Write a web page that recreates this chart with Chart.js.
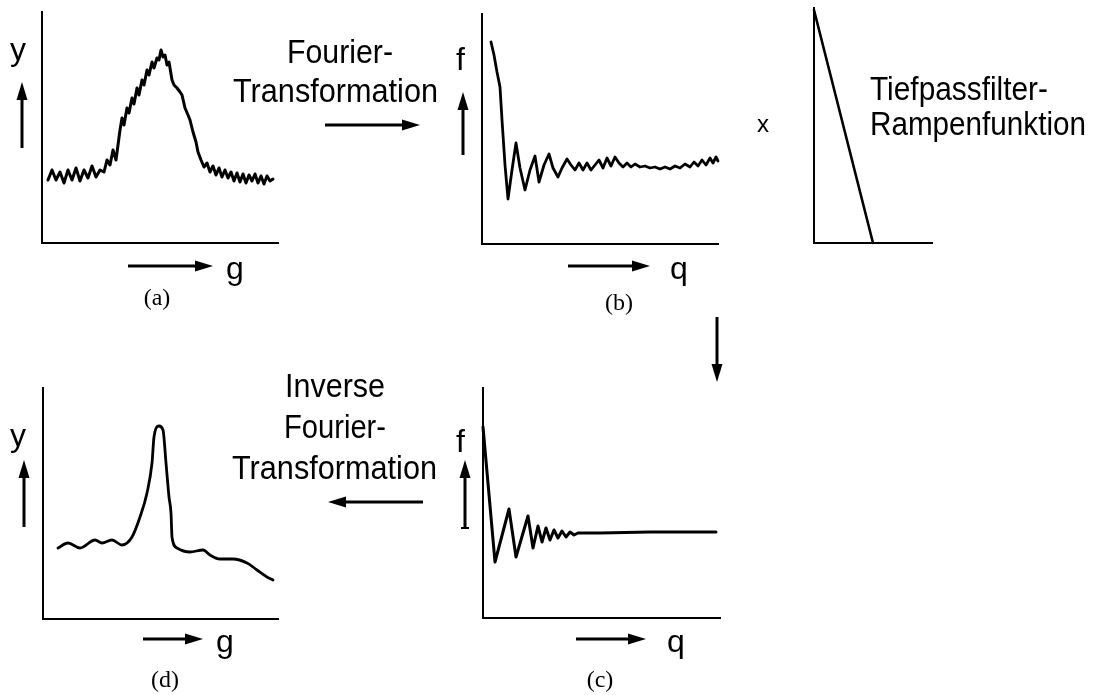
<!DOCTYPE html>
<html>
<head>
<meta charset="utf-8">
<script src="https://cdn.jsdelivr.net/npm/chart.js@4.4.0/dist/chart.umd.min.js"></script>
<style>
html, body { margin: 0; padding: 0; background: #fff; }
#page { position: relative; width: 1094px; height: 695px; overflow: hidden; background: #fff; }
#page canvas { position: absolute; }
#overlay { position: absolute; left: 0; top: 0; }
</style>
</head>
<body>
<div id="page">
  <canvas id="chartA"></canvas>
  <canvas id="chartB"></canvas>
  <canvas id="chartRamp"></canvas>
  <canvas id="chartC"></canvas>
  <canvas id="chartD"></canvas>
  <svg id="overlay" width="1094" height="695"></svg>
</div>
<script>

// (a) noisy input signal y(g), arbitrary units
var gA = [6,10,14,18,22,26,30,34,38,42,46,50,54,58,62,65,68,71,74,76,78,80,82,85,87,90,92,95,97,100,
          102,105,107,110,112,115,117,119,121,123,125,127,130,132,135,138,140,143,146,148,151,154,156,159,162,
          165,168,171,174,177,180,183,186,189,192,195,198,201,204,207,210,213,216,219,222,225,228,231];
var yA = [63,73,63,71,60,73,63,75,62,73,65,77,66,73,71,83,78,93,83,98,113,125,118,135,130,145,139,155,148,163,
          158,173,168,181,175,185,183,193,186,188,178,181,163,158,155,151,148,135,128,123,111,101,91,83,76,
          80,71,77,68,75,66,73,65,71,62,70,61,69,60,68,62,69,60,67,59,67,62,64];

// (b) Fourier transform f(q)
var qB = [9,12,15,18,20,23,26,30,34,38,43,48,53,57,62,67,71,76,80,85,89,93,97,101,105,109,113,117,121,125,
          129,133,137,141,145,149,153,158,163,168,173,178,183,188,193,198,203,208,212,216,220,224,228,231,234,236];
var fB = [202,189,172,157,124,79,45,74,101,76,54,74,88,62,79,90,76,67,76,85,79,74,81,74,81,74,79,84,76,86,
          78,87,81,77,81,77,80,77,78,76,77,75,77,75,78,76,80,77,82,78,84,79,86,81,87,83];

// low pass ramp filter
var qRamp = [0, 59];
var fRamp = [233, 0];

// (c) filtered spectrum
var qC = [0,12,26,33,45,50,55,59,63,67,71,75,79,83,87,91,95,117,167,233];
var fC = [191,56,109,61,102,70,92,76,90,78,88,80,87,81,86,83,85,85,86,86];

// (d) inverse transform, smoothed signal
var gD = [15,25,37,52,59,69,79,89,97,104,109,111,116,120,123,126,128,129,134,147,160,167,177,190,204,214,224,230];
var yD = [71,76,71,79,76,79,74,82,102,126,156,182,193,189,156,122,106,82,71,67,69,64,60,60,56,49,42,39];

var PAD = 6;

function makePanel(id, area, xMax, yMax, xs, ys, smooth, lw) {
    var canvas = document.getElementById(id);
    canvas.width = area.w + 2 * PAD;
    canvas.height = area.h + 2 * PAD;
    canvas.style.left = (area.x - PAD) + "px";
    canvas.style.top = (area.y - PAD) + "px";

    var points = xs.map(function (x, i) { return { x: x, y: ys[i] }; });

    new Chart(canvas, {
        type: "line",
        data: {
            datasets: [{
                data: points,
                borderColor: "#000",
                borderWidth: lw,
                borderJoinStyle: "round",
                borderCapStyle: "round",
                pointRadius: 0,
                fill: false,
                tension: smooth ? 0.4 : 0,
                cubicInterpolationMode: smooth ? "monotone" : "default",
                clip: false
            }]
        },
        options: {
            responsive: false,
            animation: false,
            events: [],
            layout: { padding: PAD },
            plugins: { legend: { display: false }, tooltip: { enabled: false } },
            scales: {
                x: {
                    type: "linear", min: 0, max: xMax,
                    grid: { display: false, drawTicks: false },
                    ticks: { display: false },
                    border: { display: true, color: "#000", width: 2 }
                },
                y: {
                    type: "linear", min: 0, max: yMax,
                    grid: { display: false, drawTicks: false },
                    ticks: { display: false },
                    border: { display: true, color: "#000", width: 2 }
                }
            }
        }
    });
}

makePanel("chartA",    { x: 42,  y: 12,  w: 236, h: 231 }, 236, 231, gA, yA, false, 3);
makePanel("chartB",    { x: 482, y: 14,  w: 236, h: 230 }, 236, 230, qB, fB, false, 2.8);
makePanel("chartRamp", { x: 814, y: 8,   w: 118, h: 235 }, 118, 235, qRamp, fRamp, false, 2.6);
makePanel("chartC",    { x: 483, y: 388, w: 237, h: 230 }, 237, 230, qC, fC, false, 3);
makePanel("chartD",    { x: 43,  y: 388, w: 235, h: 231 }, 235, 231, gD, yD, true, 2.8);

// arrows and texts on top
var svgNS = "http://www.w3.org/2000/svg";
var overlay = document.getElementById("overlay");

function el(name, attrs) {
    var e = document.createElementNS(svgNS, name);
    for (var k in attrs) e.setAttribute(k, attrs[k]);
    overlay.appendChild(e);
    return e;
}

function arrow(x1, y1, x2, y2) {
    var dx = x2 - x1, dy = y2 - y1;
    var len = Math.sqrt(dx * dx + dy * dy);
    var ux = dx / len, uy = dy / len;
    var headL = 18, headW = 5.5;
    var bx = x2 - ux * headL, by = y2 - uy * headL;
    el("line", { x1: x1, y1: y1, x2: bx + ux * 2, y2: by + uy * 2, stroke: "#000", "stroke-width": 3 });
    el("polygon", {
        points: x2 + "," + y2 + " " + (bx - uy * headW) + "," + (by + ux * headW) + " " + (bx + uy * headW) + "," + (by - ux * headW),
        fill: "#000"
    });
}

// sans text squeezed to the width measured in the picture
function sans(txt, x, y, size, width) {
    var attrs = { x: x, y: y, "font-family": "Liberation Sans, Arial, sans-serif", "font-size": size, fill: "#000" };
    if (width) { attrs.textLength = width; attrs.lengthAdjust = "spacingAndGlyphs"; }
    var t = el("text", attrs);
    t.textContent = txt;
}

function serif(txt, cx, y) {
    var t = el("text", { x: cx, y: y, "font-family": "Liberation Serif, Times New Roman, serif", "font-size": 24,
        "text-anchor": "middle", fill: "#000" });
    t.textContent = txt;
}

arrow(22, 148, 22, 82);
arrow(128, 266, 213, 266);
arrow(325, 125, 420, 125);
arrow(463, 155, 463, 92);
arrow(568, 266, 650, 266);
arrow(717, 317, 717, 382);
arrow(465, 528, 465, 460);
el("line", { x1: 461, y1: 528, x2: 469, y2: 528, stroke: "#000", "stroke-width": 2 });
arrow(423, 502, 328, 502);
arrow(24, 527, 24, 460);
arrow(143, 639, 203, 639);
arrow(576, 639, 646, 639);

sans("Fourier-", 287, 63, 33, 106);
sans("Transformation", 233, 102, 33, 205);
sans("x", 757, 132, 24);
sans("Tiefpassfilter-", 870, 100, 33, 178);
sans("Rampenfunktion", 870, 135, 33, 216);
sans("Inverse", 285, 397, 33, 100);
sans("Fourier-", 284, 438, 33, 102);
sans("Transformation", 232, 479, 33, 205);

sans("y", 10, 60, 32);
sans("f", 456, 70, 32);
sans("g", 226, 279, 32);
sans("q", 670, 279, 32);
sans("f", 456, 452, 32);
sans("y", 10, 446, 32);
sans("g", 216, 652, 32);
sans("q", 667, 652, 32);

serif("(a)", 157, 305);
serif("(b)", 619, 310);
serif("(c)", 600, 687);
serif("(d)", 165, 687);

</script>
</body>
</html>
